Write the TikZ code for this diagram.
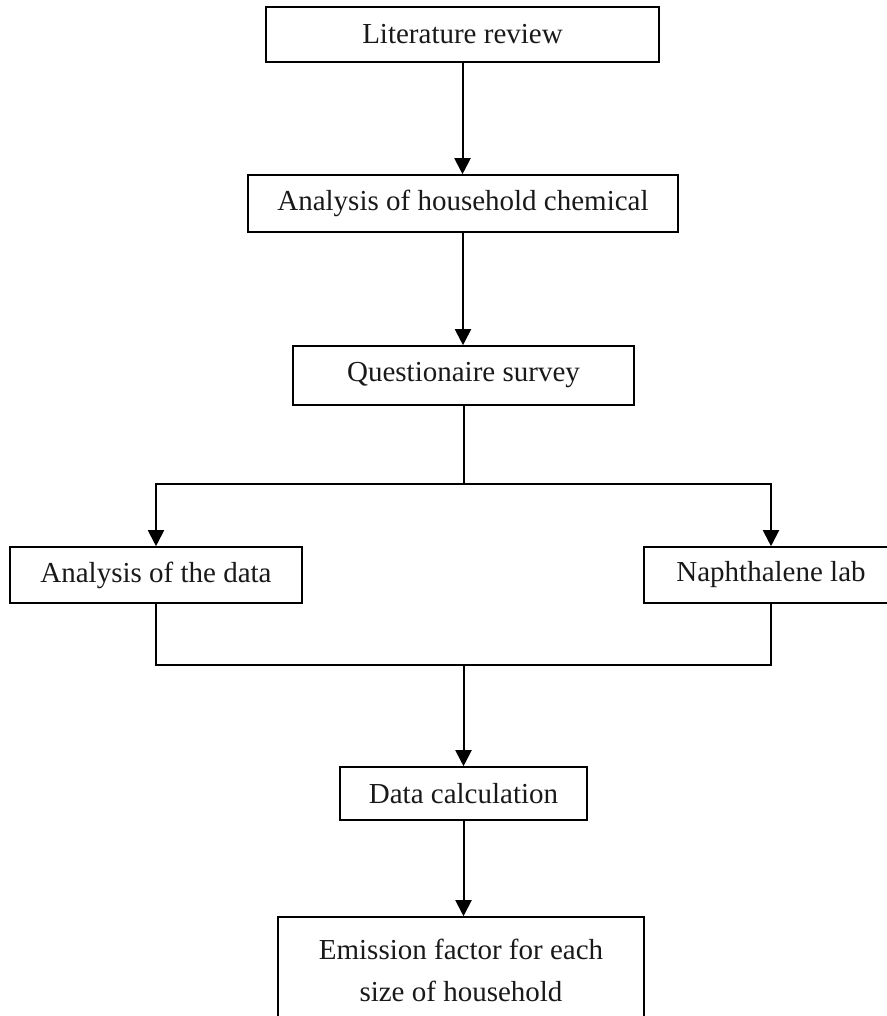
\documentclass[tikz,border=0pt]{standalone}
\usepackage{fontspec}
\setmainfont{Liberation Serif}
\usetikzlibrary{arrows.meta}
\begin{document}
\begin{tikzpicture}[x=1pt,y=-1pt,
  box/.style={draw=black, line width=1.6pt, rectangle, inner sep=0pt,
    font=\fontsize{29}{42}\selectfont, text=black!90, align=center},
  conn/.style={draw=black, line width=2pt},
  arr/.style={conn, -{Triangle[width=16pt,length=16pt]}}]
\useasboundingbox (0,0) rectangle (886,1016);
\node[box, minimum width=393pt, minimum height=55pt] (b1) at (462.5,34.5) {Literature review};
\node[box, minimum width=430pt, minimum height=57pt] (b2) at (463,203.5) {Analysis of household chemical};
\node[box, minimum width=341pt, minimum height=59pt] (b3) at (463.5,375.5) {Questionaire survey};
\node[box, minimum width=292pt, minimum height=56pt] (b4) at (156,575) {Analysis of the data};
\node[box, minimum width=254pt, minimum height=56pt] (b5) at (771,575) {Naphthalene lab};
\node[box, minimum width=247pt, minimum height=53pt] (b6) at (463.5,793.5) {Data calculation};
\node[box, minimum width=366pt, minimum height=106pt] (b7) at (461,970) {Emission factor for each\\size of household};
\coordinate (j1) at (463.5,484);
\coordinate (j2) at (463.5,665);
\draw[arr] (b1.south) -- (b1.south |- b2.north);
\draw[arr] (b2.south) -- (b2.south |- b3.north);
\draw[conn] (b3.south) -- (j1);
\draw[arr] (j1) -| (b4.north);
\draw[arr] (j1) -| (b5.north);
\draw[conn] (b4.south) |- (j2);
\draw[conn] (b5.south) |- (j2);
\draw[arr] (j2) -- (j2 |- b6.north);
\draw[arr] (b6.south) -- (b6.south |- b7.north);
\end{tikzpicture}
\end{document}
